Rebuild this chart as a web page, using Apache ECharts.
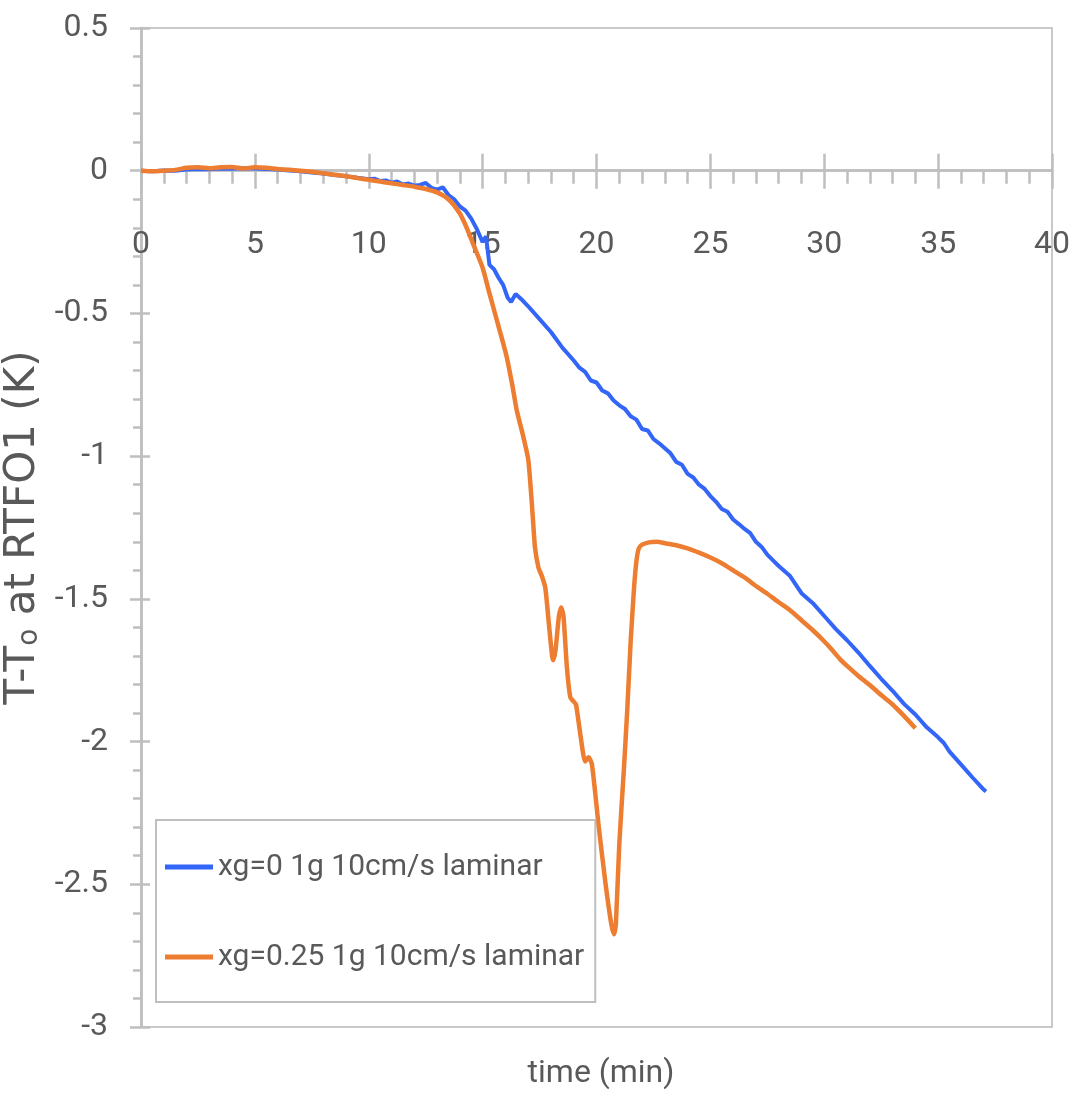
<!DOCTYPE html>
<html>
<head>
<meta charset="utf-8">
<script src="https://cdn.jsdelivr.net/npm/echarts@6/dist/echarts.min.js"></script>
<style>
  html, body { margin: 0; padding: 0; background: #ffffff; }
  #chart { width: 1076px; height: 1100px; }
</style>
</head>
<body>
<div id="chart"></div>
<script>
// ---------- data ----------
const seriesNames = ['xg=0 1g 10cm/s laminar', 'xg=0.25 1g 10cm/s laminar'];

const xTicks = [0, 5, 10, 15, 20, 25, 30, 35, 40];
const yTicks = [0.5, 0, -0.5, -1, -1.5, -2, -2.5, -3];

// xg=0 : time (min), T-T0 (K)
const blueTime = [0,0.5,1,1.5,2,2.5,3,3.5,4,4.5,5,5.5,6,6.5,7,7.5,8,8.5,9,9.5,10,10.25,10.5,10.75,11,11.25,11.5,11.75,12,12.25,12.5,12.75,13,13.25,13.5,13.75,14,14.25,14.5,14.75,15,15.15,15.3,15.5,15.7,15.9,16.1,16.25,16.45,16.7,17,17.5,18,18.5,19,19.25,19.5,19.75,20,20.25,20.5,20.75,21,21.25,21.5,21.75,22,22.25,22.5,22.75,23,23.25,23.5,23.75,24,24.25,24.5,24.75,25,25.25,25.5,25.75,26,26.25,26.5,26.75,27,27.25,27.5,27.75,28,28.5,29,29.5,30,30.5,31,31.5,32,32.5,33,33.5,34,34.5,35,35.25,35.5,36,36.5,37,37.1];
const blueValue = [0.000,-0.002,0.001,0.000,0.004,0.006,0.005,0.008,0.007,0.009,0.008,0.006,0.004,0.001,-0.002,-0.006,-0.010,-0.015,-0.019,-0.025,-0.030,-0.028,-0.036,-0.034,-0.042,-0.038,-0.048,-0.045,-0.052,-0.050,-0.043,-0.060,-0.066,-0.058,-0.085,-0.100,-0.125,-0.140,-0.168,-0.205,-0.250,-0.230,-0.330,-0.345,-0.375,-0.400,-0.445,-0.460,-0.432,-0.450,-0.475,-0.520,-0.565,-0.620,-0.665,-0.690,-0.705,-0.735,-0.742,-0.770,-0.780,-0.805,-0.822,-0.835,-0.860,-0.872,-0.905,-0.910,-0.940,-0.955,-0.972,-0.990,-1.020,-1.030,-1.062,-1.075,-1.100,-1.115,-1.140,-1.160,-1.185,-1.195,-1.222,-1.238,-1.255,-1.270,-1.300,-1.318,-1.345,-1.365,-1.385,-1.420,-1.480,-1.515,-1.560,-1.605,-1.645,-1.688,-1.735,-1.780,-1.822,-1.868,-1.905,-1.950,-1.985,-2.005,-2.035,-2.080,-2.125,-2.168,-2.175];

// xg=0.25 : time (min), T-T0 (K)
const orangeTime = [0,0.5,1,1.5,2,2.5,3,3.5,4,4.5,5,5.5,6,6.5,7,7.5,8,8.5,9,9.5,10,10.5,11,11.5,12,12.5,13,13.5,14,14.3,14.6,15,15.3,15.75,16.05,16.3,16.5,16.75,17.0,17.1,17.2,17.3,17.45,17.6,17.75,17.9,18.05,18.1,18.2,18.35,18.45,18.55,18.7,18.85,19.0,19.1,19.3,19.5,19.65,19.8,20.1,20.4,20.65,20.77,20.85,21.0,21.2,21.35,21.5,21.65,21.75,21.85,22.0,22.3,22.65,23.0,23.5,24.0,24.5,25.0,25.5,26.0,26.5,27.0,27.5,28.0,28.5,29.0,29.5,29.95,30.3,30.7,31.0,31.5,32.0,32.5,33.0,33.5,34.0];
const orangeValue = [0.000,-0.002,0.000,0.003,0.010,0.012,0.009,0.012,0.013,0.008,0.012,0.010,0.006,0.003,0.000,-0.004,-0.009,-0.014,-0.019,-0.026,-0.032,-0.038,-0.044,-0.050,-0.056,-0.064,-0.076,-0.100,-0.150,-0.200,-0.260,-0.340,-0.430,-0.560,-0.650,-0.750,-0.840,-0.920,-1.010,-1.100,-1.210,-1.320,-1.390,-1.420,-1.460,-1.580,-1.700,-1.715,-1.680,-1.560,-1.530,-1.560,-1.740,-1.845,-1.860,-1.870,-1.980,-2.070,-2.055,-2.080,-2.300,-2.500,-2.640,-2.675,-2.640,-2.360,-2.100,-1.890,-1.650,-1.460,-1.370,-1.325,-1.310,-1.302,-1.300,-1.305,-1.312,-1.323,-1.338,-1.355,-1.375,-1.400,-1.425,-1.455,-1.482,-1.512,-1.540,-1.575,-1.610,-1.645,-1.675,-1.712,-1.735,-1.770,-1.802,-1.837,-1.870,-1.910,-1.953];

// ---------- chart ----------
const pairs = (xs, ys) => xs.map((x, i) => [x, ys[i]]);
const sansFont = "Roboto, 'Liberation Sans', sans-serif";
const textColor = '#595959';
const axisGray = '#bfbfbf';

const gridTop = 28, gridBottom = 73, chartH = 1100;
const yMin = yTicks[yTicks.length - 1], yMax = yTicks[0];
const plotH = chartH - gridTop - gridBottom;
// distance from the bottom of the plot up to the zero line (the x axis crosses at y = 0)
const zeroFromBottom = plotH * (0 - yMin) / (yMax - yMin);

const chart = echarts.init(document.getElementById('chart'), null, { renderer: 'canvas' });

const xBase = {
  type: 'value', min: xTicks[0], max: xTicks[xTicks.length - 1], interval: xTicks[1] - xTicks[0],
  splitLine: { show: false }
};
const yBase = {
  type: 'value', min: yMin, max: yMax, interval: yTicks[0] - yTicks[1],
  splitLine: { show: false }
};

chart.setOption({
  animation: false,
  backgroundColor: '#ffffff',
  grid: {
    left: 141, right: 24, top: gridTop, bottom: gridBottom,
    containLabel: false, outerBoundsMode: 'none',
    show: true, borderColor: '#c9c9c9', borderWidth: 2, backgroundColor: 'transparent'
  },
  title: {
    text: 'time (min)',
    left: 596, top: 1053, textAlign: 'center',
    textStyle: { fontFamily: sansFont, fontSize: 32, fontWeight: 'normal', color: textColor }
  },
  legend: {
    orient: 'vertical',
    left: 156, top: 820,
    data: seriesNames,
    icon: 'rect',
    itemWidth: 48, itemHeight: 5,
    itemGap: 50,
    padding: [27, 11, 25, 9],
    backgroundColor: '#ffffff',
    borderColor: axisGray, borderWidth: 2,
    textStyle: { fontFamily: sansFont, fontSize: 30, color: textColor, lineHeight: 40, width: 363 }
  },
  xAxis: [
    Object.assign({}, xBase, {
      position: 'bottom',
      offset: -zeroFromBottom,
      axisLine: { show: true, onZero: false, lineStyle: { color: axisGray, width: 2.5 } },
      axisTick: { show: true, length: 18, lineStyle: { color: axisGray, width: 2.5 } },
      minorTick: { show: true, splitNumber: 5, length: 13, lineStyle: { color: axisGray, width: 2.5 } },
      axisLabel: { margin: 58, fontFamily: sansFont, fontSize: 32, color: textColor }
    }),
    Object.assign({}, xBase, {
      position: 'top',
      axisLine: { show: true, onZero: true, lineStyle: { color: axisGray, width: 2.5 } },
      axisTick: { show: true, length: 17, lineStyle: { color: axisGray, width: 2.5 } },
      axisLabel: { show: false }
    })
  ],
  yAxis: [
    Object.assign({}, yBase, {
      position: 'left',
      axisLine: { show: true, onZero: false, lineStyle: { color: axisGray, width: 2.5 } },
      axisTick: { show: true, length: 11, lineStyle: { color: axisGray, width: 2.5 } },
      minorTick: { show: true, splitNumber: 5, length: 8, lineStyle: { color: axisGray, width: 2.5 } },
      axisLabel: { margin: 33, fontFamily: sansFont, fontSize: 32, color: textColor },
      name: 'T-T{sub|o} at RTFO1 (K)', nameLocation: 'middle', nameGap: 92, nameRotate: 90,
      nameTextStyle: {
        fontFamily: "'DejaVu Sans', sans-serif", fontSize: 42, color: textColor,
        rich: { sub: { fontFamily: "'DejaVu Sans', sans-serif", fontSize: 28, color: textColor, verticalAlign: 'bottom', lineHeight: 42 } }
      }
    }),
    Object.assign({}, yBase, {
      position: 'right',
      axisLine: { show: true, onZero: true, lineStyle: { color: axisGray, width: 2.5 } },
      axisTick: { show: true, length: 9, lineStyle: { color: axisGray, width: 2.5 } },
      axisLabel: { show: false }
    })
  ],
  series: [
    {
      name: seriesNames[0], type: 'line', xAxisIndex: 0, yAxisIndex: 0,
      data: pairs(blueTime, blueValue),
      showSymbol: false, smooth: false,
      lineStyle: { color: '#3366f8', width: 4 }, itemStyle: { color: '#3366f8' }
    },
    {
      name: seriesNames[1], type: 'line', xAxisIndex: 0, yAxisIndex: 0,
      data: pairs(orangeTime, orangeValue),
      showSymbol: false, smooth: 0.2,
      lineStyle: { color: '#ed7d31', width: 4.5 }, itemStyle: { color: '#ed7d31' }
    }
  ]
});
</script>
</body>
</html>
